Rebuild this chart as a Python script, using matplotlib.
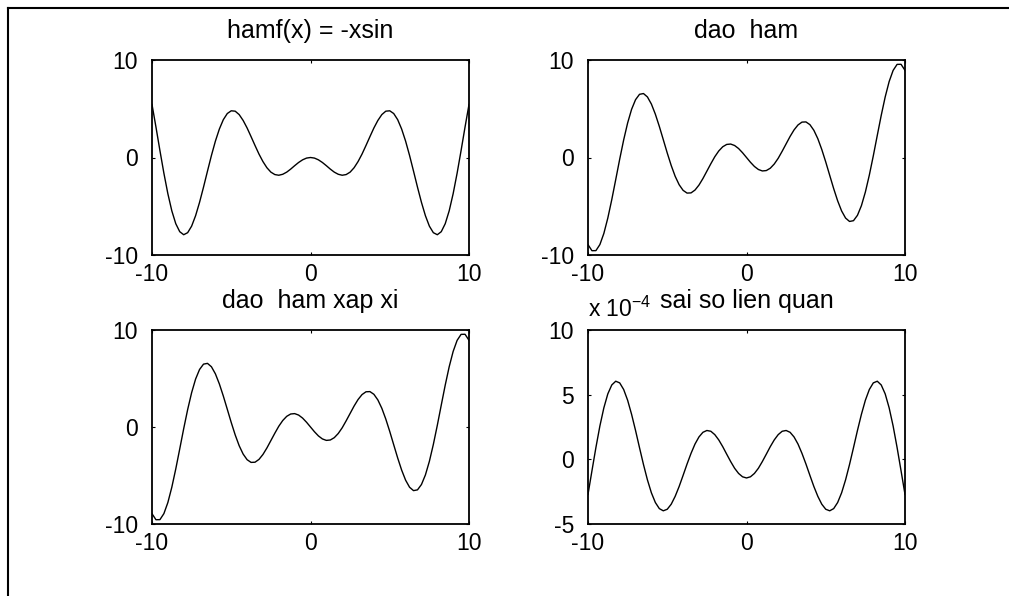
# ve do thi ham, dao ham, dao ham xap xi va sai so

import matplotlib
matplotlib.use('Agg')
import matplotlib.pyplot as plt
from matplotlib.lines import Line2D

plt.rcParams['font.family'] = ['Liberation Sans', 'DejaVu Sans']
plt.rcParams['mathtext.fontset'] = 'custom'
plt.rcParams['mathtext.rm'] = 'Liberation Sans'
plt.rcParams['mathtext.it'] = 'Liberation Sans'
plt.rcParams['axes.unicode_minus'] = False

x = [-10, -9.75, -9.5, -9.25, -9, -8.75, -8.5, -8.25, -8, -7.75, -7.5, -7.25, -7, -6.75,
     -6.5, -6.25, -6, -5.75, -5.5, -5.25, -5, -4.75, -4.5, -4.25, -4, -3.75, -3.5, -3.25,
     -3, -2.75, -2.5, -2.25, -2, -1.75, -1.5, -1.25, -1, -0.75, -0.5, -0.25, 0,
     0.25, 0.5, 0.75, 1, 1.25, 1.5, 1.75, 2, 2.25, 2.5, 2.75, 3, 3.25, 3.5, 3.75, 4,
     4.25, 4.5, 4.75, 5, 5.25, 5.5, 5.75, 6, 6.25, 6.5, 6.75, 7, 7.25, 7.5, 7.75, 8,
     8.25, 8.5, 8.75, 9, 9.25, 9.5, 9.75, 10]

# f(x) = -x sin(x)
ham = [5.44, 3.12, 0.71, -1.61, -3.71, -5.47, -6.79, -7.61, -7.92, -7.71, -7.04, -5.97,
       -4.60, -3.04, -1.40, 0.21, 1.68, 2.92, 3.88, 4.51, 4.79, 4.75, 4.40, 3.80, 3.03,
       2.14, 1.23, 0.35, -0.42, -1.05, -1.50, -1.75, -1.82, -1.72, -1.50, -1.19, -0.84,
       -0.51, -0.24, -0.06, 0,
       -0.06, -0.24, -0.51, -0.84, -1.19, -1.50, -1.72, -1.82, -1.75, -1.50, -1.05, -0.42,
       0.35, 1.23, 2.14, 3.03, 3.80, 4.40, 4.75, 4.79, 4.51, 3.88, 2.92, 1.68, 0.21, -1.40,
       -3.04, -4.60, -5.97, -7.04, -7.71, -7.92, -7.61, -6.79, -5.47, -3.71, -1.61, 0.71,
       3.12, 5.44]

dao_ham = [-8.94, -9.56, -9.55, -8.93, -7.79, -6.21, -4.32, -2.26, -0.17, 1.80, 3.54, 4.94,
           5.93, 6.48, 6.56, 6.21, 5.48, 4.44, 3.19, 1.83, 0.46, -0.82, -1.93, -2.79, -3.37,
           -3.65, -3.63, -3.34, -2.83, -2.16, -1.40, -0.64, 0.08, 0.67, 1.10, 1.34, 1.38,
           1.23, 0.92, 0.49, 0,
           -0.49, -0.92, -1.23, -1.38, -1.34, -1.10, -0.67, -0.08, 0.64, 1.40, 2.16, 2.83,
           3.34, 3.63, 3.65, 3.37, 2.79, 1.93, 0.82, -0.46, -1.83, -3.19, -4.44, -5.48, -6.21,
           -6.56, -6.48, -5.93, -4.94, -3.54, -1.80, 0.17, 2.26, 4.32, 6.21, 7.79, 8.93, 9.55,
           9.56, 8.94]

dao_ham_xap_xi = [-8.94, -9.56, -9.55, -8.93, -7.79, -6.21, -4.32, -2.26, -0.17, 1.80, 3.54,
                  4.94, 5.93, 6.48, 6.56, 6.21, 5.48, 4.44, 3.19, 1.83, 0.46, -0.82, -1.93,
                  -2.79, -3.37, -3.65, -3.63, -3.34, -2.83, -2.16, -1.40, -0.64, 0.08, 0.67,
                  1.10, 1.34, 1.38, 1.23, 0.92, 0.49, 0,
                  -0.49, -0.92, -1.23, -1.38, -1.34, -1.10, -0.67, -0.08, 0.64, 1.40, 2.16,
                  2.83, 3.34, 3.63, 3.65, 3.37, 2.79, 1.93, 0.82, -0.46, -1.83, -3.19, -4.44,
                  -5.48, -6.21, -6.56, -6.48, -5.93, -4.94, -3.54, -1.80, 0.17, 2.26, 4.32,
                  6.21, 7.79, 8.93, 9.55, 9.56, 8.94]

# sai so, don vi 1e-4
sai_so = [-2.71, -0.88, 0.92, 2.58, 3.98, 5.06, 5.75, 6.04, 5.91, 5.40, 4.57, 3.48, 2.23,
          0.90, -0.40, -1.59, -2.59, -3.34, -3.81, -3.98, -3.86, -3.47, -2.86, -2.10, -1.24,
          -0.36, 0.46, 1.18, 1.73, 2.09, 2.23, 2.17, 1.91, 1.50, 0.98, 0.40, -0.17, -0.69,
          -1.09, -1.35, -1.44,
          -1.35, -1.09, -0.69, -0.17, 0.40, 0.98, 1.50, 1.91, 2.17, 2.23, 2.09, 1.73, 1.18,
          0.46, -0.36, -1.24, -2.10, -2.86, -3.47, -3.86, -3.98, -3.81, -3.34, -2.59, -1.59,
          -0.40, 0.90, 2.23, 3.48, 4.57, 5.40, 5.91, 6.04, 5.75, 5.06, 3.98, 2.58, 0.92,
          -0.88, -2.71]

titles = ['hamf(x) = -xsin', 'dao  ham', 'dao  ham xap xi', 'sai so lien quan']
x_ticks = [-10, 0, 10]
y_ticks = [[-10, 0, 10], [-10, 0, 10], [-10, 0, 10], [-5, 0, 5, 10]]
y_lims = [(-10, 10), (-10, 10), (-10, 10), (-5, 10)]
series = [ham, dao_ham, dao_ham_xap_xi, sai_so]

W, H = 1009, 596
fig = plt.figure(figsize=(W / 100, H / 100), dpi=100)

# vi tri cac truc (pixel): trai, tren, phai, duoi
boxes = [(152, 60, 469, 255), (588, 60, 905, 255),
         (152, 330, 469, 524), (588, 330, 905, 524)]

for i in range(4):
    l, t, r, b = boxes[i]
    ax = fig.add_axes([l / W, 1 - b / H, (r - l) / W, (b - t) / H])
    ax.plot(x, series[i], color='black', linewidth=1.0)
    ax.set_xlim(-10, 10)
    ax.set_ylim(*y_lims[i])
    ax.set_xticks(x_ticks)
    ax.set_yticks(y_ticks[i])
    ax.set_title(titles[i], fontsize=18, pad=15.5)
    ax.tick_params(direction='in', top=True, right=True, length=2.5, width=0.8,
                   labelsize=16.5)
    ax.tick_params(axis='x', pad=5.5)
    ax.tick_params(axis='y', pad=10)
    for s in ax.spines.values():
        s.set_linewidth(1.3)
    if i == 3:
        ax.text(0, 1.067, 'x 10$^{-4}$', transform=ax.transAxes, fontsize=16.5,
                ha='left', va='baseline')

# khung vien cua hinh
fig.add_artist(Line2D([8 / W, 8 / W], [0, 1 - 8 / H], color='black', linewidth=1.5))
fig.add_artist(Line2D([8 / W, 1], [1 - 8 / H, 1 - 8 / H], color='black', linewidth=1.5))

plt.savefig('out.png', dpi=100)
